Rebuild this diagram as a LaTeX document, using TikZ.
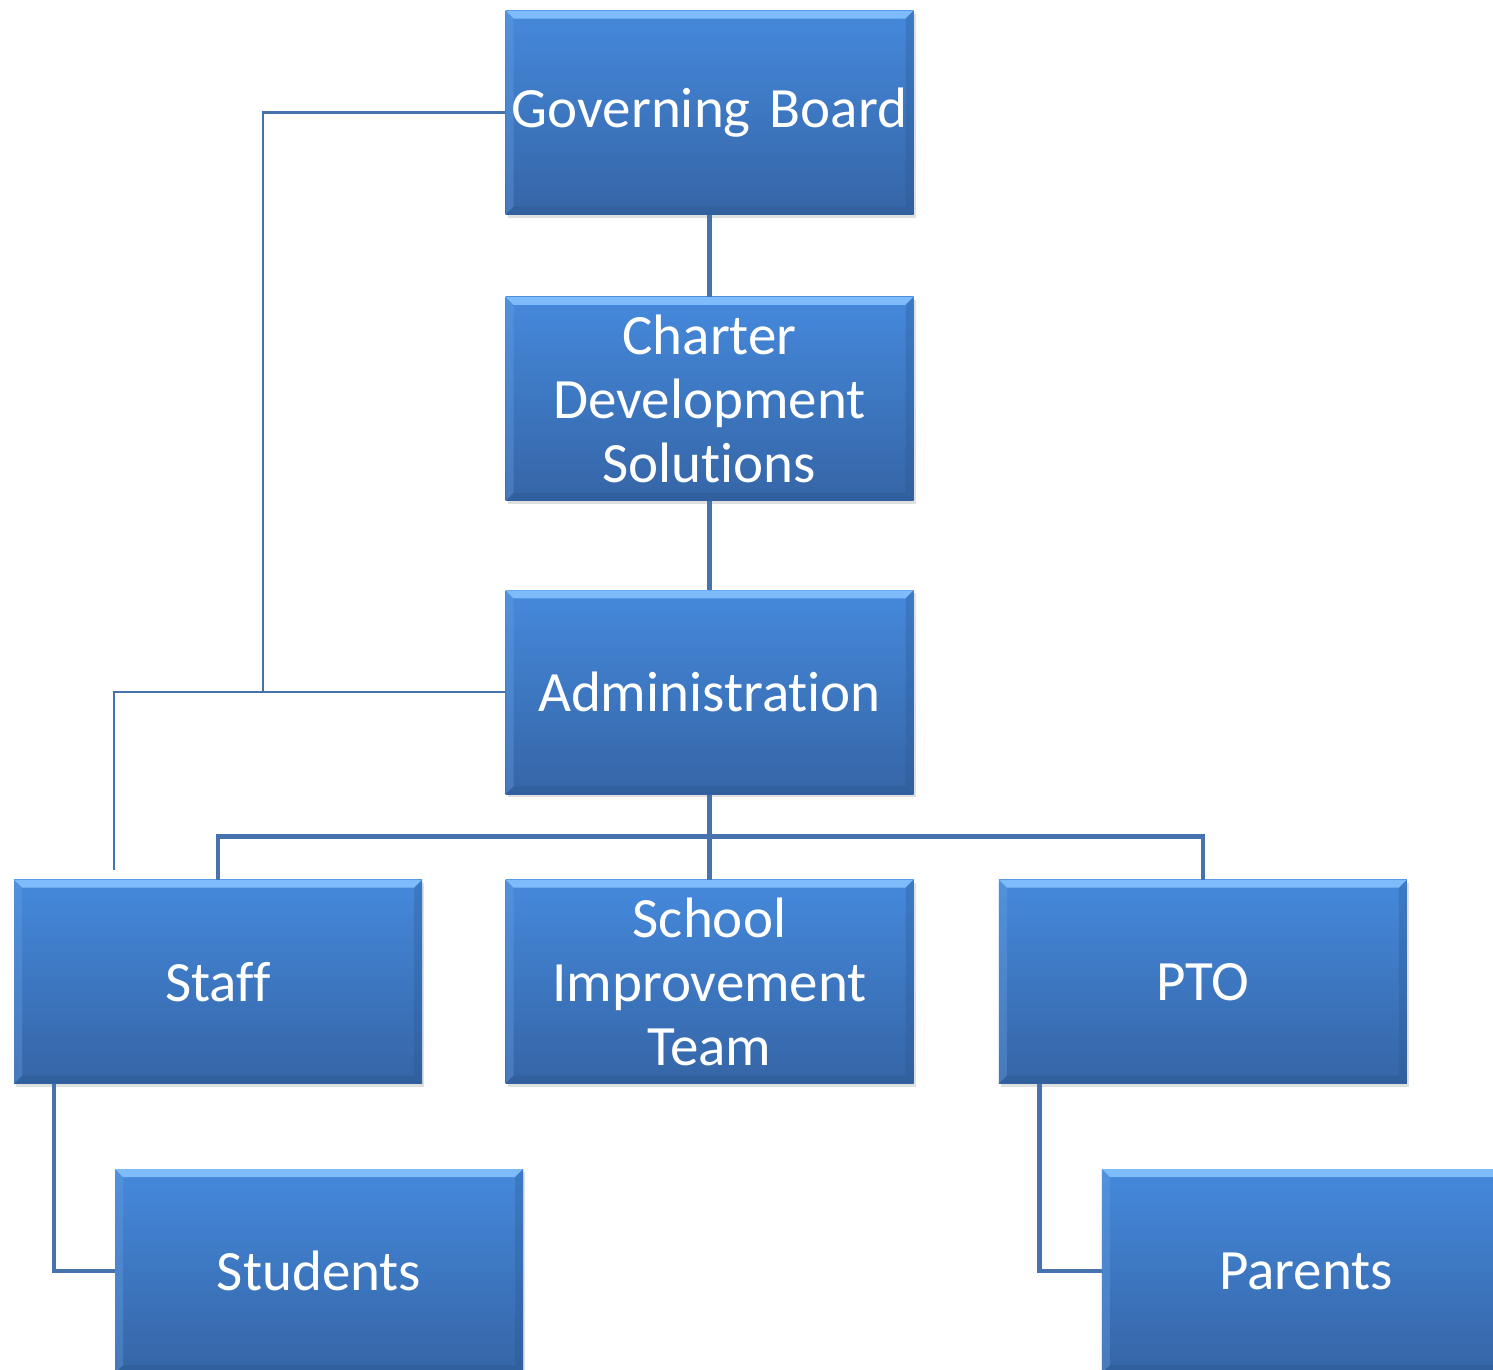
\documentclass[tikz,border=0pt]{standalone}
\usepackage{fontspec}
\setmainfont{Carlito}[Ligatures=NoCommon,WordSpace=0.7]
\usetikzlibrary{
	positioning,
	shadows,
}
\definecolor{boxtop}{HTML}{4589DC}
\definecolor{boxbottom}{HTML}{3565A6}
\definecolor{bevellight}{HTML}{7DBBFA}
\definecolor{beveldark}{HTML}{2B568F}
\definecolor{linkblue}{HTML}{4673AD}
\newcommand{\boxfont}{\fontsize{57pt}{64pt}\selectfont}
\tikzset{orgbox/.style={
		% The shape:
		rectangle,
		% The size:
		minimum width=408pt,minimum height=204pt,inner sep=0pt,
		% make sure text wraps and centres
		text width=400pt,align=center,
		% The filling:
		top color=boxtop, % a shading that is lighter at the top...
		bottom color=boxbottom, % and darker at the bottom
		% a faint shadow under the box
		drop shadow={shadow xshift=2pt,shadow yshift=-3pt,opacity=.25},
		% bevelled edges: light on top, dark below and right
		path picture={
			\fill[bevellight] (path picture bounding box.north west) -- (path picture bounding box.north east)
				-- ([shift={(-8pt,-8pt)}]path picture bounding box.north east) -- ([shift={(8pt,-8pt)}]path picture bounding box.north west) -- cycle;
			\fill[boxtop!80!white,opacity=.35] (path picture bounding box.north west) -- ([shift={(8pt,-8pt)}]path picture bounding box.north west)
				-- ([shift={(8pt,8pt)}]path picture bounding box.south west) -- (path picture bounding box.south west) -- cycle;
			\fill[beveldark,opacity=.3] (path picture bounding box.north east) -- ([shift={(-8pt,-8pt)}]path picture bounding box.north east)
				-- ([shift={(-8pt,8pt)}]path picture bounding box.south east) -- (path picture bounding box.south east) -- cycle;
			\fill[beveldark,opacity=.35] (path picture bounding box.south west) -- ([shift={(8pt,8pt)}]path picture bounding box.south west)
				-- ([shift={(-8pt,8pt)}]path picture bounding box.south east) -- (path picture bounding box.south east) -- cycle;
		},
		% The text:
		text=white,font=\boxfont,
}}
\tikzset{mainlink/.style={
		% reporting lines
		draw=linkblue,line width=4.5pt,
}}
\tikzset{sidelink/.style={
		% advisory lines
		draw=linkblue,line width=2.2pt,
}}

\begin{document}
\begin{tikzpicture}[x=1pt,y=1pt,node distance=85pt]
	\path[use as bounding box,fill=white] (0,0) rectangle (1493,-1369);
	% the chain down the middle
	\node[orgbox] (board) at (709.5,-112.5) {Governing Board};
	\node[orgbox,below=82pt of board] (charter) {Charter\\Development\\Solutions};
	\node[orgbox,below=89pt of charter] (admin) {Administration};
	% third row
	\node[orgbox,below=of admin] (sit) {School\\Improvement\\Team};
	\node[orgbox,left=83pt of sit] (staff) {Staff};
	\node[orgbox,right=of sit] (pto) {PTO};
	% bottom row, shifted to the right
	\node[orgbox,below=of staff,xshift=101pt] (students) {Students};
	\node[orgbox,below=of pto,xshift=103pt] (parents) {Parents};

	\draw[mainlink] (board) -- (charter);
	\draw[mainlink] (charter) -- (admin);
	\draw[mainlink] (admin.south) -- ++(0,-42) coordinate (fork);
	\draw[mainlink] (fork) -| (staff.north);
	\draw[mainlink] (fork) -| (pto.north);
	\draw[mainlink] (fork) -- (sit.north);
	\draw[mainlink] ([xshift=40pt]staff.south west) |- (students.west);
	\draw[mainlink] ([xshift=41pt]pto.south west) |- (parents.west);

	\coordinate (stafftap) at ([shift={(100pt,10pt)}]staff.north west);
	\draw[sidelink] (board.west) -- ++(-242,0) |- (admin.west);
	\draw[sidelink] (admin.west) -| (stafftap);
\end{tikzpicture}
\end{document}
